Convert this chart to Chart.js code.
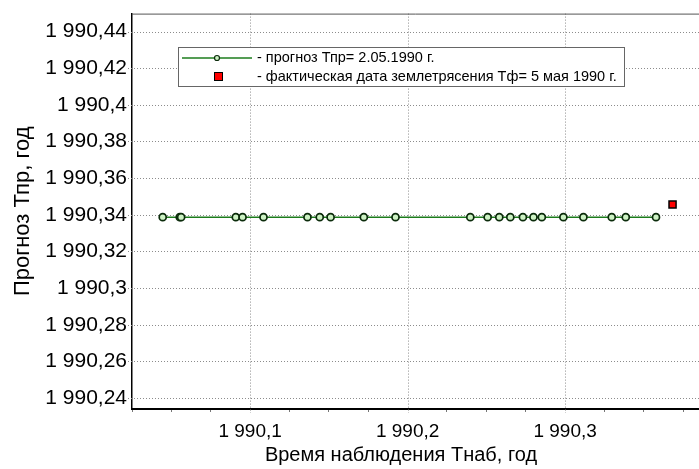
<!DOCTYPE html>
<html>
<head>
<meta charset="utf-8">
<script src="https://cdn.jsdelivr.net/npm/chart.js@4.4.1/dist/chart.umd.min.js"></script>
<style>
  body { margin: 0; background: #fff; }
  canvas { display: block; }
</style>
</head>
<body>
<canvas id="Mycharts" width="699" height="469"></canvas>
<script>
// время наблюдения и прогноз
var tObs = [1990.0445, 1990.0553, 1990.0562, 1990.0909, 1990.0952, 1990.1085, 1990.1364, 1990.1442,
  1990.1511, 1990.1722, 1990.1923, 1990.2398, 1990.2508, 1990.2582, 1990.2652, 1990.2732,
  1990.2799, 1990.2852, 1990.2989, 1990.3116, 1990.3296, 1990.3385, 1990.3577];
var tForecast = [1990.3387, 1990.3387, 1990.3387, 1990.3387, 1990.3387, 1990.3387, 1990.3387, 1990.3387,
  1990.3387, 1990.3387, 1990.3387, 1990.3387, 1990.3387, 1990.3387, 1990.3387, 1990.3387,
  1990.3387, 1990.3387, 1990.3387, 1990.3387, 1990.3387, 1990.3387, 1990.3387];
// фактическая дата
var quakeX = [1990.3682];
var quakeY = [1990.3456];

var seriesLabels = ["- прогноз Тпр= 2.05.1990 г.", "- фактическая дата землетрясения Тф= 5 мая 1990 г."];
var xTitle = "Время наблюдения Тнаб, год";
var yTitle = "Прогноз Тпр, год";

var yTicks = [1990.24, 1990.26, 1990.28, 1990.30, 1990.32, 1990.34, 1990.36, 1990.38, 1990.40, 1990.42, 1990.44];
var yTickLabels = ["1 990,24", "1 990,26", "1 990,28", "1 990,3", "1 990,32", "1 990,34", "1 990,36", "1 990,38", "1 990,4", "1 990,42", "1 990,44"];
var xTicks = [1990.025, 1990.05, 1990.075, 1990.1, 1990.125, 1990.15, 1990.175, 1990.2, 1990.225, 1990.25, 1990.275, 1990.3, 1990.325, 1990.35, 1990.375];
var xTickLabels = ["", "", "", "1 990,1", "", "", "", "1 990,2", "", "", "", "1 990,3", "", "", ""];

var forecastPts = [], quakePts = [];
for (var i = 0; i < tObs.length; i++) {
  forecastPts.push({x: tObs[i], y: tForecast[i]});
}
for (var j = 0; j < quakeX.length; j++) {
  quakePts.push({x: quakeX[j], y: quakeY[j]});
}

var FONT = "'Liberation Sans', Arial, sans-serif";
var GRID = '#8c8c8c';

// пунктирная сетка, рамка сверху, подпись оси X и легенда внутри поля графика
var boxLegend = {
  id: 'boxLegend',
  beforeDatasetsDraw: function (chart) {
    var ctx = chart.ctx, a = chart.chartArea;
    var xs = chart.scales.x, ys = chart.scales.y;
    ctx.save();
    ctx.strokeStyle = GRID;
    ctx.lineWidth = 1;
    ctx.setLineDash([1, 2]);
    for (var k = 0; k < yTicks.length; k++) {
      var py = Math.round(ys.getPixelForValue(yTicks[k])) + 0.5;
      ctx.beginPath();
      ctx.moveTo(a.left - 4, py);
      ctx.lineTo(a.right, py);
      ctx.stroke();
    }
    for (var m = 0; m < xTicks.length; m++) {
      if (!xTickLabels[m]) continue;
      var px = Math.round(xs.getPixelForValue(xTicks[m])) + 0.5;
      ctx.beginPath();
      ctx.moveTo(px, a.top);
      ctx.lineTo(px, a.bottom + 4);
      ctx.stroke();
    }
    ctx.restore();
  },
  afterDraw: function (chart) {
    var ctx = chart.ctx, a = chart.chartArea;
    ctx.save();
    ctx.strokeStyle = '#555';
    ctx.lineWidth = 1;
    ctx.beginPath();
    ctx.moveTo(a.left, a.top + 0.5);
    ctx.lineTo(a.right, a.top + 0.5);
    ctx.stroke();

    ctx.fillStyle = '#000';
    ctx.font = "20px " + FONT;
    ctx.textAlign = 'center';
    ctx.textBaseline = 'middle';
    ctx.fillText(xTitle, 401, 455);
    ctx.textAlign = 'left';

    var bx = 178.5, by = 47.5, bw = 446, bh = 39;
    ctx.fillStyle = '#fff';
    ctx.fillRect(bx, by, bw, bh);
    ctx.strokeStyle = '#666';
    ctx.strokeRect(bx, by, bw, bh);

    var d0 = chart.data.datasets[0], d1 = chart.data.datasets[1];
    // строка 1
    ctx.strokeStyle = d0.borderColor;
    ctx.lineWidth = 1.5;
    ctx.beginPath();
    ctx.moveTo(182, 58);
    ctx.lineTo(252, 58);
    ctx.stroke();
    ctx.beginPath();
    ctx.arc(217, 58, 2.5, 0, Math.PI * 2);
    ctx.fillStyle = d0.pointBackgroundColor;
    ctx.fill();
    ctx.strokeStyle = d0.pointBorderColor;
    ctx.lineWidth = 1.2;
    ctx.stroke();
    // строка 2
    ctx.fillStyle = d1.pointBackgroundColor;
    ctx.fillRect(214.5, 72.5, 8, 8);
    ctx.strokeStyle = d1.pointBorderColor;
    ctx.lineWidth = 1;
    ctx.strokeRect(214.5, 72.5, 8, 8);

    ctx.fillStyle = '#000';
    ctx.font = "14.5px " + FONT;
    ctx.fillText(d0.label, 257, 58);
    ctx.fillText(d1.label, 257, 77);
    ctx.restore();
  }
};

var ctx = document.getElementById('Mycharts').getContext('2d');

var Mycharts = new Chart(ctx, {
  type: 'scatter',
  data: {
    datasets: [
      {
        label: seriesLabels[0],
        data: forecastPts,
        showLine: true,
        borderColor: '#1c7d1c',
        borderWidth: 1.5,
        pointRadius: 3.5,
        pointBorderWidth: 1.7,
        pointBorderColor: '#0b2b0b',
        pointBackgroundColor: '#cdf2c4'
      },
      {
        label: seriesLabels[1],
        data: quakePts,
        showLine: false,
        pointStyle: 'rect',
        pointRadius: 5,
        pointBorderWidth: 1.5,
        pointBorderColor: '#000',
        pointBackgroundColor: '#ff0000'
      }
    ]
  },
  options: {
    responsive: false,
    animation: false,
    devicePixelRatio: 1,
    layout: { autoPadding: false, padding: { top: 12, right: 0, left: 0, bottom: 0 } },
    plugins: {
      legend: { display: false },
      tooltip: { enabled: false }
    },
    scales: {
      x: {
        type: 'linear',
        min: 1990.025,
        max: 1990.385,
        afterBuildTicks: function (scale) {
          scale.ticks = xTicks.map(function (v) { return {value: v}; });
        },
        afterFit: function (scale) { scale.height = 60; },
        ticks: {
          autoSkip: false,
          maxRotation: 0,
          padding: 8,
          color: '#000',
          font: { family: FONT, size: 19 },
          callback: function (value, index) { return xTickLabels[index]; }
        },
        grid: {
          drawOnChartArea: false,
          tickLength: 3,
          tickColor: function (c) { return xTickLabels[c.index] ? 'rgba(0,0,0,0)' : '#777'; }
        },
        border: { display: true, color: '#000', width: 2 }
      },
      y: {
        min: 1990.234,
        max: 1990.4498,
        afterBuildTicks: function (scale) {
          scale.ticks = yTicks.map(function (v) { return {value: v}; });
        },
        afterFit: function (scale) { scale.width = 132; },
        ticks: {
          padding: 1,
          color: '#000',
          font: { family: FONT, size: 21 },
          callback: function (value, index) { return yTickLabels[index]; }
        },
        grid: {
          drawOnChartArea: false,
          tickLength: 4,
          tickColor: 'rgba(0,0,0,0)'
        },
        border: { display: true, color: '#000', width: 1.5 },
        title: {
          display: true,
          text: yTitle,
          color: '#000',
          font: { family: FONT, size: 22 },
          padding: { top: 10, bottom: 0 }
        }
      }
    }
  },
  plugins: [boxLegend]
});
</script>
</body>
</html>
